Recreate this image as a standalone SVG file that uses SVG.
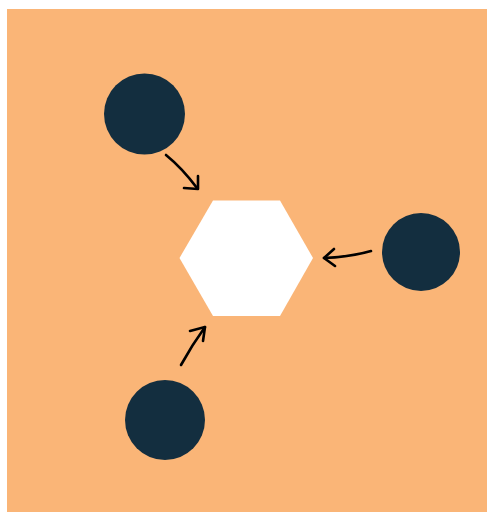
<svg xmlns="http://www.w3.org/2000/svg" width="487" height="512" viewBox="0 0 487 512">
<style>
.n{fill:#132E3F}
.a{fill:none;stroke:#000;stroke-width:2.6;stroke-linecap:round;stroke-linejoin:round}
</style>
<rect x="0" y="0" width="487" height="512" fill="#fff"/>
<rect x="7" y="9" width="480" height="503" fill="#FAB577"/>
<g id="hexagon"><polygon points="179.5,258 213,200.5 280,200.5 313,258 280,316 213,316" fill="#fff"/></g>
<g id="node-top"><circle class="n" cx="144.5" cy="114" r="40.5"/></g>
<g id="node-right"><circle class="n" cx="421" cy="252" r="39"/></g>
<g id="node-bottom"><circle class="n" cx="165" cy="420" r="40"/></g>
<g id="connectors">
<path class="a" d="M166,155 Q182,168 197,188"/>
<path class="a" d="M198,176 L198,189 L184,188"/>
<path class="a" d="M371,251 Q350,257 324,258"/>
<path class="a" d="M334,249 L324,258 L335,266"/>
<path class="a" d="M181,365 Q192,345 205,327"/>
<path class="a" d="M190,331 L205,327 L203,341"/>
</g>
</svg>
